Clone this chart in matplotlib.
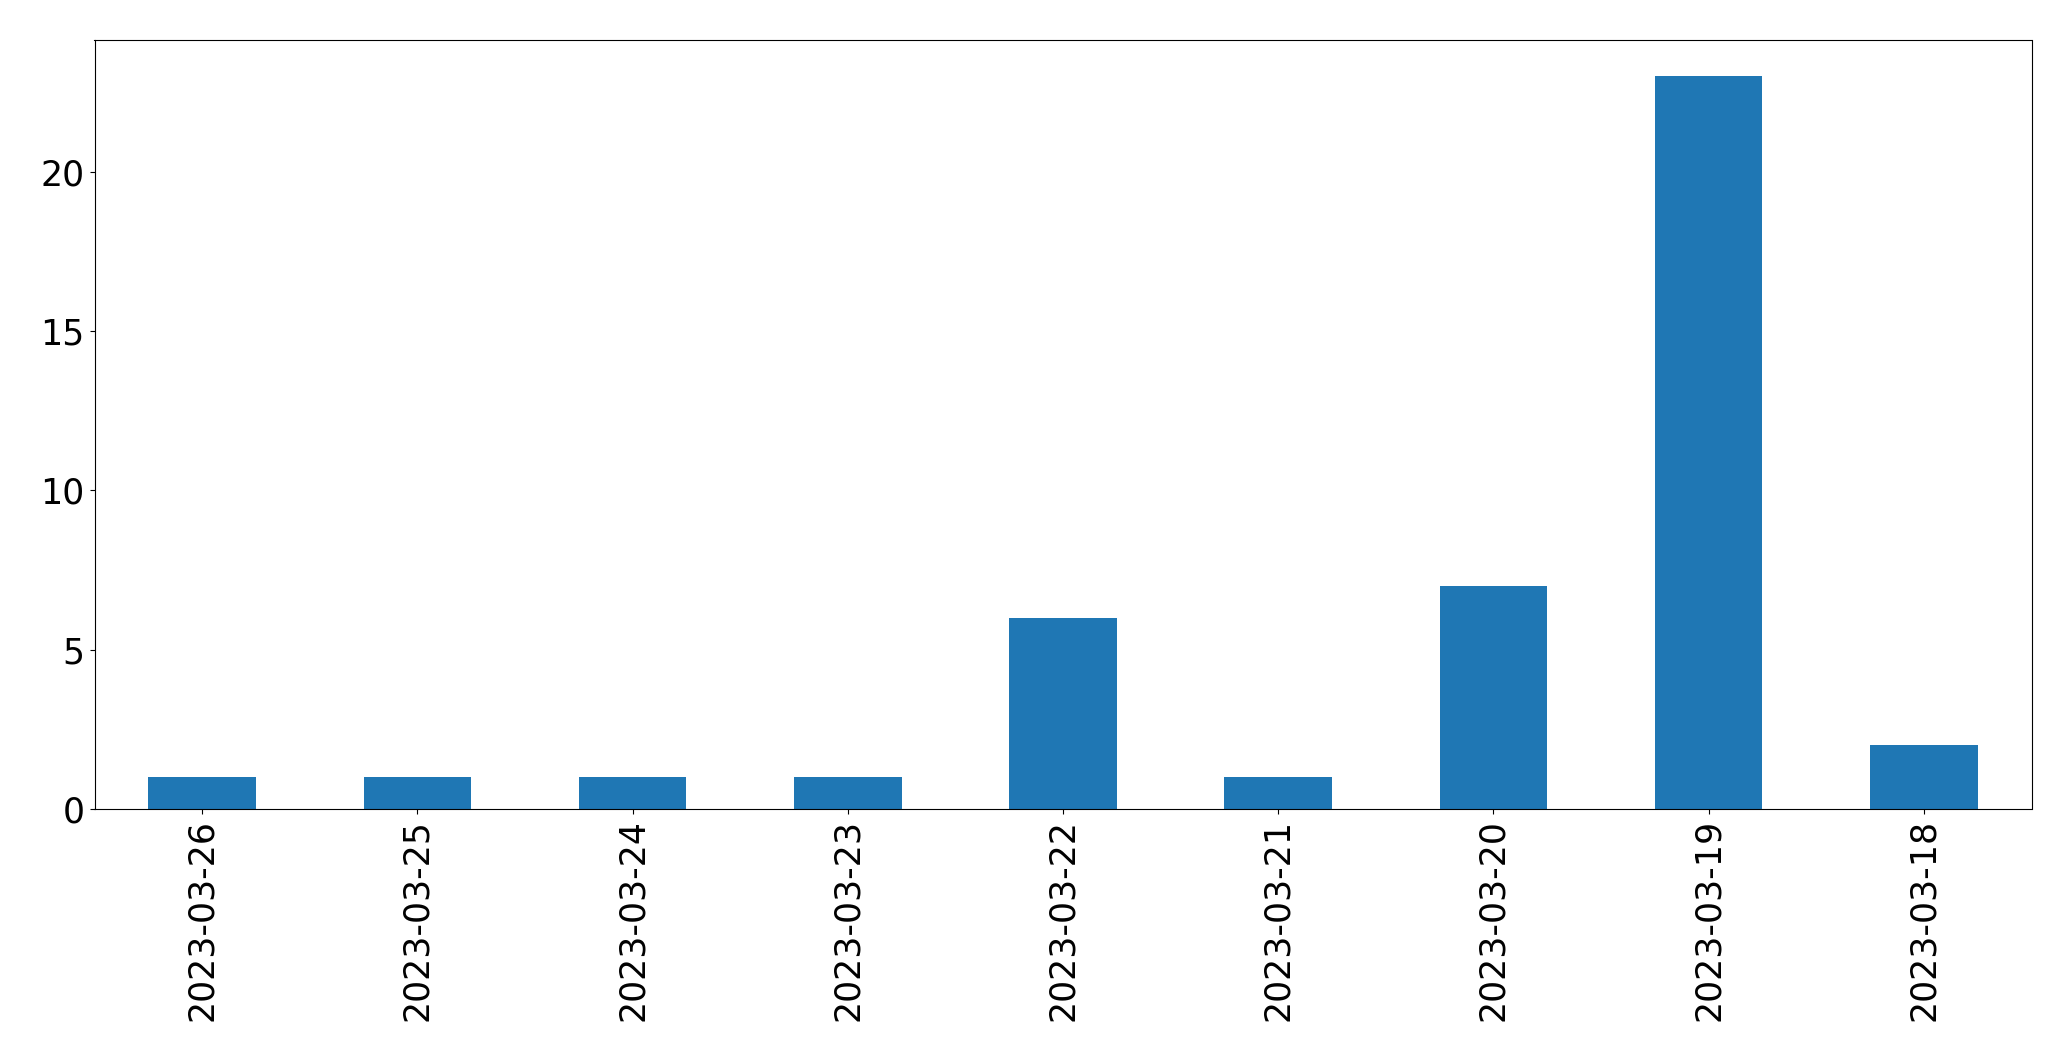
import matplotlib
matplotlib.use("Agg")
import matplotlib.pyplot as plt
import pandas as pd

dates = ["2023-03-26", "2023-03-25", "2023-03-24", "2023-03-23", "2023-03-22",
         "2023-03-21", "2023-03-20", "2023-03-19", "2023-03-18"]
counts = [1, 1, 1, 1, 6, 1, 7, 23, 2]

s = pd.Series(counts, index=dates)

fig, ax = plt.subplots(figsize=(20.71, 10.61), dpi=100)
s.plot(kind="bar", ax=ax, color="#1f77b4")
ax.tick_params(labelsize=25)
plt.subplots_adjust(left=94.5 / 2071, right=2031.5 / 2071, top=1 - 39.5 / 1061, bottom=1 - 809 / 1061)

plt.savefig("out.png", dpi=100)
